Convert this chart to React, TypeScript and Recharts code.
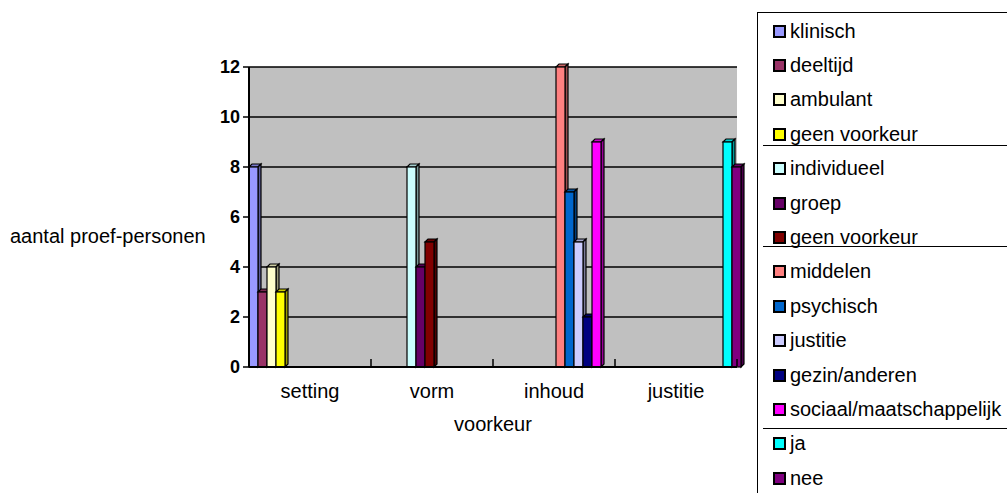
import React from "react";
import { BarChart, Bar, XAxis, YAxis, CartesianGrid } from "recharts";

const categories = ["setting", "vorm", "inhoud", "justitie"];

// one group of series per category
const settingNames = ["klinisch", "deeltijd", "ambulant", "geen voorkeur"];
const settingValues = [8, 3, 4, 3];
const vormNames = ["individueel", "groep", "geen voorkeur"];
const vormValues = [8, 4, 5];
const inhoudNames = ["middelen", "psychisch", "justitie", "gezin/anderen", "sociaal/maatschappelijk"];
const inhoudValues = [12, 7, 5, 2, 9];
const justitieNames = ["ja", "nee"];
const justitieValues = [9, 8];

const seriesColors = [
  "#9999FF", "#993366", "#FFFFCC", "#FFFF00",
  "#CCFFFF", "#660066", "#800000",
  "#FF8080", "#0066CC", "#CCCCFF", "#000080", "#FF00FF",
  "#00FFFF", "#800080",
];

const yTicks = [0, 2, 4, 6, 8, 10, 12];

const groups = [
  { names: settingNames, values: settingValues },
  { names: vormNames, values: vormValues },
  { names: inhoudNames, values: inhoudValues },
  { names: justitieNames, values: justitieValues },
];

const series: { key: string; name: string; color: string }[] = [];
const data: Record<string, string | number | null>[] = categories.map((c) => ({ category: c }));
groups.forEach((g, gi) => {
  g.names.forEach((name, i) => {
    const key = `s${series.length}`;
    series.push({ key, name, color: seriesColors[series.length] });
    data.forEach((row, ci) => {
      row[key] = ci === gi ? g.values[i] : null;
    });
  });
});

const FONT = "'Liberation Sans', Arial, sans-serif";

function darken(hex: string, f: number) {
  const n = parseInt(hex.slice(1), 16);
  const r = Math.round(((n >> 16) & 255) * f);
  const g = Math.round(((n >> 8) & 255) * f);
  const b = Math.round((n & 255) * f);
  return `rgb(${r},${g},${b})`;
}

// fake 3d column like the old excel chart: front, top and right side
function Bar3D(props: any) {
  const { x, y, width, height, fill } = props;
  if (!height || height <= 0) return null;
  const d = 3;
  const fw = width;
  return (
    <g stroke="#000" strokeWidth={1.2}>
      <polygon
        points={`${x},${y} ${x + d},${y - d} ${x + fw + d},${y - d} ${x + fw},${y}`}
        fill={darken(fill, 0.8)}
      />
      <polygon
        points={`${x + fw},${y} ${x + fw + d},${y - d} ${x + fw + d},${y + height - d} ${x + fw},${y + height}`}
        fill={darken(fill, 0.6)}
      />
      <rect x={x} y={y} width={fw} height={height} fill={fill} />
    </g>
  );
}

function CategoryTick(props: any) {
  const { x, y, payload, index, visibleTicksCount } = props;
  const half = payload.offset || 61;
  const axisY = y - 16;
  return (
    <g>
      <line x1={x - half} y1={axisY} x2={x - half} y2={axisY + 7} stroke="#000" strokeWidth={1.5} />
      {index === visibleTicksCount - 1 && (
        <line x1={x + half} y1={axisY} x2={x + half} y2={axisY + 7} stroke="#000" strokeWidth={1.5} />
      )}
      <text x={x} y={y + 23} textAnchor="middle" fontSize={20} fontFamily={FONT} fill="#000">
        {payload.value}
      </text>
    </g>
  );
}

const separatorTops = [145, 246, 428];

function LegendBox() {
  return (
    <div
      style={{
        position: "absolute",
        left: 757,
        top: 12,
        width: 260,
        height: 500,
        border: "1.5px solid #000",
        background: "#fff",
        fontFamily: FONT,
        fontSize: 20,
        color: "#000",
      }}
    >
      {series.map((s, i) => (
        <div
          key={s.key}
          style={{
            position: "absolute",
            left: 15,
            top: 5 + i * 34.4,
            height: 26,
            display: "flex",
            alignItems: "center",
            whiteSpace: "nowrap",
          }}
        >
          <span
            style={{
              display: "inline-block",
              width: 9,
              height: 9,
              background: s.color,
              border: "2px solid #000",
              marginRight: 4,
            }}
          />
          {s.name}
        </div>
      ))}
      {separatorTops.map((t) => (
        <div
          key={t}
          style={{ position: "absolute", left: 5, right: 0, top: t - 13, height: 0, borderTop: "1.5px solid #000" }}
        />
      ))}
    </div>
  );
}

export default function App() {
  return (
    <div style={{ position: "absolute", left: 0, top: 0, width: 1007, height: 493, background: "#fff", overflow: "hidden" }}>
      <BarChart
        width={1007}
        height={493}
        data={data}
        margin={{ top: 67, right: 270, left: 189, bottom: 56 }}
        barCategoryGap={0}
        barGap={0}
      >
        <CartesianGrid vertical={false} fill="#C0C0C0" stroke="#000" strokeWidth={1.5} strokeOpacity={1} />
        <XAxis
          dataKey="category"
          height={70}
          tickLine={false}
          axisLine={{ stroke: "#000", strokeWidth: 2 }}
          tick={<CategoryTick />}
          interval={0}
          label={{ value: "voorkeur", position: "insideBottom", offset: 6, fontSize: 20, fontFamily: FONT, fill: "#000" }}
        />
        <YAxis
          width={60}
          domain={[0, 12]}
          ticks={yTicks}
          interval={0}
          tickSize={6}
          tickMargin={3}
          axisLine={{ stroke: "#000", strokeWidth: 2 }}
          tickLine={{ stroke: "#000", strokeWidth: 1.5 }}
          tick={{ fontSize: 18, fontWeight: "bold", fontFamily: FONT, fill: "#000" }}
          label={{
            content: ({ viewBox }: any) => (
              <text
                x={10}
                y={viewBox.y + viewBox.height * 0.57}
                fontSize={20}
                fontFamily={FONT}
                fill="#000"
                dominantBaseline="middle"
              >
                aantal proef-personen
              </text>
            ),
          }}
        />
        {series.map((s) => (
          <Bar
            key={s.key}
            dataKey={s.key}
            name={s.name}
            fill={s.color}
            shape={<Bar3D />}
            isAnimationActive={false}
          />
        ))}
      </BarChart>
      <LegendBox />
    </div>
  );
}
